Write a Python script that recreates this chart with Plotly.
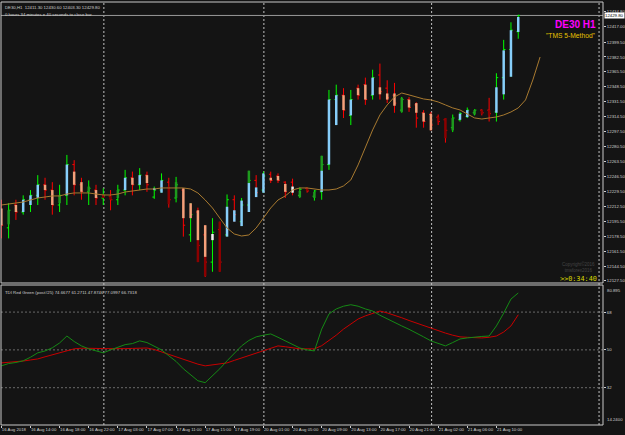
import plotly.graph_objects as go

# ---------------- data ----------------
tick_idx = [0, 4, 8, 12, 16, 20, 24, 28, 32, 36, 40, 44, 48, 52, 56, 60, 64, 68]
tick_labels = ["16 Aug 2018", "16 Aug 14:00", "16 Aug 18:00", "16 Aug 22:00",
               "17 Aug 03:00", "17 Aug 07:00", "17 Aug 11:00", "17 Aug 15:00",
               "17 Aug 19:00", "20 Aug 01:00", "20 Aug 05:00", "20 Aug 09:00",
               "20 Aug 13:00", "20 Aug 17:00", "20 Aug 21:00", "21 Aug 02:00",
               "21 Aug 06:00", "21 Aug 10:00"]
day_separators = [14.08, 36.06, 59.1, 82.1]

opens = [12208, 12188, 12214, 12206, 12220, 12225, 12237, 12231, 12214, 12225,
         12260, 12237, 12229, 12231, 12222, 12224, 12220, 12231, 12245, 12237,
         12248, 12223, 12231, 12240, 12222, 12231, 12180, 12206, 12180, 12149,
         12186, 12180, 12220, 12195, 12214, 12242, 12231, 12249, 12247, 12240,
         12240, 12225, 12233, 12224, 12229, 12260, 12334, 12339, 12316, 12347,
         12351, 12339, 12362, 12347, 12339, 12322, 12334, 12328, 12319, 12317,
         12314, 12311, 12302, 12311, 12315, 12319, 12322, 12322, 12320, 12359,
         12391, 12411.3]
highs = [12220, 12216, 12220, 12225, 12231, 12248, 12245, 12240, 12237, 12271,
         12265, 12245, 12242, 12237, 12233, 12231, 12237, 12254, 12252, 12256,
         12252, 12235, 12250, 12245, 12246, 12233, 12216, 12211, 12191, 12199,
         12195, 12226, 12225, 12222, 12253, 12248, 12252, 12252, 12250, 12241,
         12244, 12234, 12234, 12231, 12270, 12345, 12351, 12347, 12345, 12351,
         12359, 12368, 12375, 12356, 12353, 12337, 12337, 12331, 12322, 12320,
         12317, 12313, 12317, 12320, 12325, 12323, 12323, 12336, 12364, 12402,
         12422, 12430.6]
lows = [12176, 12176, 12197, 12203, 12206, 12214, 12220, 12203, 12206, 12214,
        12225, 12220, 12214, 12214, 12214, 12208, 12214, 12225, 12225, 12231,
        12229, 12221, 12228, 12211, 12217, 12178, 12172, 12149, 12132, 12138,
        12138, 12178, 12195, 12190, 12206, 12223, 12228, 12239, 12239, 12222,
        12225, 12222, 12228, 12219, 12220, 12254, 12305, 12313, 12305, 12334,
        12328, 12334, 12334, 12330, 12319, 12319, 12320, 12302, 12302, 12299,
        12305, 12285, 12297, 12309, 12313, 12316, 12316, 12309, 12309, 12334,
        12360, 12403.3]
closes = [12191, 12208, 12206, 12220, 12225, 12237, 12231, 12214, 12225, 12260,
          12237, 12229, 12233, 12222, 12225, 12220, 12231, 12245, 12237, 12248,
          12237, 12231, 12242, 12220, 12237, 12191, 12203, 12168, 12149, 12183,
          12149, 12220, 12203, 12214, 12242, 12228, 12247, 12242, 12242, 12229,
          12231, 12232, 12230, 12230, 12260, 12334, 12339, 12322, 12334, 12339,
          12334, 12359, 12343, 12336, 12330, 12334, 12325, 12313, 12309, 12305,
          12309, 12299, 12313, 12318, 12322, 12322, 12319, 12318, 12359, 12391,
          12413, 12429.8]

# Heiken-Ashi style body (top / bottom) and its state
ha_top = [12210, 12208, 12214, 12220, 12225, 12237, 12237, 12231, 12225, 12260,
          12252, 12240, 12235, 12231, 12226, 12224, 12231, 12245, 12245, 12248,
          12248, 12233, 12242, 12235, 12240, 12233, 12216, 12208, 12191, 12181,
          12195, 12212, 12208, 12219, 12239, 12234, 12250, 12245, 12247, 12238,
          12235, 12230, 12233, 12229, 12253, 12334, 12339, 12339, 12334, 12347,
          12351, 12359, 12348, 12341, 12341, 12336, 12334, 12330, 12319, 12318,
          12314, 12313, 12313, 12318, 12322, 12322, 12322, 12322, 12348, 12390,
          12413, 12428]
ha_bot = [12191, 12192, 12206, 12206, 12214, 12222, 12231, 12214, 12216, 12225,
          12237, 12229, 12229, 12222, 12222, 12220, 12222, 12231, 12237, 12237,
          12239, 12231, 12228, 12215, 12222, 12199, 12199, 12174, 12155, 12174,
          12138, 12178, 12195, 12190, 12206, 12223, 12228, 12242, 12242, 12229,
          12228, 12223, 12230, 12222, 12229, 12260, 12305, 12322, 12316, 12339,
          12334, 12339, 12340, 12334, 12327, 12320, 12325, 12319, 12309, 12299,
          12309, 12290, 12299, 12311, 12314, 12317, 12318, 12316, 12319, 12340,
          12360, 12411]
ha_state = ["bear", "weakbull", "bear", "bull", "bull", "bull", "bear", "bear", "weakbull", "bull",
            "bear", "bear", "weakbull", "bear", "weakbear", "weakbear", "weakbull", "bull", "bear", "bull",
            "bear", "bull", "bull", "weakbear", "weakbull", "bear", "bear", "bear", "bear", "doji",
            "weakbear", "bull", "bull", "bull", "bull", "bull", "bull", "bear", "bear", "bear",
            "doji", "weakbull", "weakbear", "weakbull", "bull", "bull", "bull", "bear", "bull", "bear",
            "bear", "bull", "bear", "bear", "bear", "weakbull", "bear", "bear", "bear", "bear",
            "weakbear", "weakbear", "weakbull", "bull", "bull", "weakbull", "weakbear", "weakbear", "bull", "bull",
            "bull", "bull"]
# darker extension of the HA body (None where absent)
shade_top = [None] * 72
shade_bot = [None] * 72
shade_state = [None] * 72
for i, t, b, s in [(27, 12174, 12149, "weakbear"), (28, 12155, 12133, "weakbear"),
                   (34, 12253, 12239, "weakbull"), (44, 12270, 12253, "weakbull")]:
    shade_top[i], shade_bot[i], shade_state[i] = t, b, s

# displaced moving average (runs 3 bars past the last bar)
ma_vals = [12214.0, 12215.2, 12216.3, 12217.4, 12219.7, 12222.0, 12223.1, 12224.3, 12224.3, 12226.5,
           12227.7, 12227.7, 12227.7, 12226.5, 12225.4, 12225.4, 12226.5, 12228.8, 12230.0, 12231.1,
           12232.2, 12232.2, 12233.4, 12233.4, 12233.4, 12233.4, 12232.2, 12227.7, 12219.7, 12210.6,
           12199.2, 12187.8, 12181.0, 12178.7, 12179.9, 12187.8, 12199.2, 12210.6, 12219.7, 12224.3,
           12231.1, 12233.4, 12233.4, 12232.2, 12231.1, 12231.1, 12232.2, 12235.7, 12242.5, 12259.6,
           12278.9, 12299.4, 12316.5, 12327.9, 12337.0, 12341.5, 12339.3, 12337.0, 12334.7, 12333.6,
           12331.3, 12327.9, 12324.5, 12322.2, 12317.6, 12313.1, 12311.9, 12313.1, 12314.2, 12316.5,
           12319.9, 12324.5, 12333.6, 12356.3, 12382.5]

tdi_green = [42.4, 43.5, 44.0, 44.8, 46.5, 48.6, 49.5, 51.0, 53.3, 56.6,
             54.0, 51.9, 50.5, 49.5, 48.6, 50.0, 51.4, 52.5, 53.0, 54.3,
             53.5, 51.9, 50.0, 47.2, 44.5, 41.0, 38.0, 35.3, 34.4, 37.7,
             41.0, 44.8, 48.5, 51.9, 54.5, 56.2, 57.0, 57.6, 56.0, 54.3,
             52.5, 50.9, 50.0, 49.5, 59.9, 67.1, 69.5, 70.8, 71.5, 70.8,
             69.5, 68.5, 66.5, 64.7, 63.0, 61.4, 59.8, 58.1, 56.2, 54.3,
             53.0, 51.9, 53.5, 55.2, 55.7, 56.2, 56.4, 56.6, 61.4, 67.5,
             74.2, 77.0997]
tdi_red = [43.8, 44.0, 44.3, 44.7, 45.2, 45.7, 46.7, 47.7, 48.7, 49.6,
           50.5, 50.8, 50.9, 50.7, 50.6, 50.5, 50.5, 50.6, 50.7, 50.8,
           50.9, 50.2, 49.0, 47.8, 46.7, 45.7, 44.5, 43.2, 42.4, 42.8,
           43.3, 43.8, 45.0, 46.2, 47.4, 48.6, 49.8, 51.0, 51.9, 51.5,
           51.0, 50.5, 50.5, 50.5, 52.0, 54.3, 57.0, 59.9, 62.5, 64.7,
           66.2, 67.5, 68.5, 67.6, 66.6, 65.3, 64.0, 62.8, 61.5, 60.2,
           59.0, 58.0, 57.0, 56.2, 56.0, 55.8, 55.7, 56.0, 56.6, 58.5,
           61.4, 66.7318]
tdi_levels = [68, 50, 32]
tdi_range = [14.24, 80.895]

price_tick_vals = [12127.5 + 17 * k for k in range(17)] + [12417.0, 12434.8]
price_tick_text = ["%.2f" % v for v in price_tick_vals]
last_price = 12429.80
price_range = [12125.2, 12445.1]

header1 = "DE30,H1  12411.30 12430.60 12403.30 12429.80"
header2 = "0 hours 34 minutes e 40 seconds to close bar"
tdi_label = "TDI Red Green (post#25) 74.6677 61.2711 47.8746 77.0997 66.7318"

# ---------------- style ----------------
BG = "#141414"
FRAME = "#c8c8c8"
TXT = "#d0d0d0"
body_colors = {"bull": "#87cefa", "bear": "#f4a07a", "weakbull": "#1e9a1e",
               "weakbear": "#8b0000", "doji": "#f0f0f0"}

x = list(range(len(opens)))
fig = go.Figure()

fig.add_trace(go.Ohlc(x=x, open=opens, high=highs, low=lows, close=closes,
                      increasing_line_color="#00ff00", decreasing_line_color="#ff0000",
                      line_width=1, tickwidth=0.25, xaxis="x", yaxis="y",
                      hoverinfo="skip", showlegend=False))


def seg_trace(tops, bots, states, key, width):
    xs, ys = [], []
    for i, (t, b, s) in enumerate(zip(tops, bots, states)):
        if s == key and t is not None:
            xs += [i, i, None]
            ys += [b, t, None]
    return go.Scatter(x=xs, y=ys, mode="lines", line=dict(color=body_colors[key], width=width),
                      xaxis="x", yaxis="y", hoverinfo="skip", showlegend=False)


for key in body_colors:
    fig.add_trace(seg_trace(shade_top, shade_bot, shade_state, key, 2.5))
for key in body_colors:
    fig.add_trace(seg_trace(ha_top, ha_bot, ha_state, key, 2.5))

fig.add_trace(go.Scatter(x=list(range(len(ma_vals))), y=ma_vals, mode="lines",
                         line=dict(color="#a87a30", width=1), xaxis="x", yaxis="y",
                         hoverinfo="skip", showlegend=False))

fig.add_trace(go.Scatter(x=x, y=tdi_red, mode="lines", line=dict(color="#c80000", width=1),
                         xaxis="x", yaxis="y2", hoverinfo="skip", showlegend=False))
fig.add_trace(go.Scatter(x=x, y=tdi_green, mode="lines", line=dict(color="#148a14", width=1),
                         xaxis="x", yaxis="y2", hoverinfo="skip", showlegend=False))

W, H = 625, 435
mt, mb, ml, mr = 2, 10, 1, 22
plot_h = H - mt - mb
main_bottom_px = 283
ind_top_px = 285
main_dom = [(H - mb - main_bottom_px) / plot_h, 1]
ind_dom = [0, (H - mb - ind_top_px) / plot_h]
px_per_bar = 7.28
x0 = -0.05
x1 = x0 + (W - ml - mr) / px_per_bar

shapes = []
for d in day_separators:
    shapes.append(dict(type="line", xref="x", yref="paper", x0=d, x1=d, y0=0, y1=1,
                       line=dict(color="#c0c0c0", width=1, dash="2px,2px"), layer="below"))
for lv in tdi_levels:
    shapes.append(dict(type="line", xref="paper", yref="y2", x0=0, x1=1, y0=lv, y1=lv,
                       line=dict(color="#6a6a6a", width=1, dash="2px,2px"), layer="below"))
shapes.append(dict(type="line", xref="paper", yref="y", x0=0, x1=1, y0=last_price, y1=last_price,
                   line=dict(color="#9a9a9a", width=1), layer="below"))
# pane frames
shapes.append(dict(type="rect", xref="paper", yref="paper", x0=0, x1=1, y0=main_dom[0], y1=1,
                   line=dict(color=FRAME, width=1)))
shapes.append(dict(type="rect", xref="paper", yref="paper", x0=0, x1=1, y0=0, y1=ind_dom[1],
                   line=dict(color=FRAME, width=1)))

small = dict(family="Liberation Sans, Arial", size=4.3, color=TXT)
annotations = [
    dict(text=header1, x=0.004, y=1, xref="paper", yref="paper", xanchor="left", yanchor="top",
         showarrow=False, font=small, yshift=-1),
    dict(text=header2, x=0.004, y=1, xref="paper", yref="paper", xanchor="left", yanchor="top",
         showarrow=False, font=small, yshift=-8),
    dict(text="<b>DE30 H1</b>", x=0.9925, y=1, xref="paper", yref="paper", xanchor="right",
         yanchor="middle", yshift=-22, showarrow=False,
         font=dict(family="Liberation Sans, Arial", size=10, color="#ff00ff")),
    dict(text='"TMS 5-Method"', x=0.9925, y=1, xref="paper", yref="paper", xanchor="right",
         yanchor="middle", yshift=-33, showarrow=False,
         font=dict(family="Liberation Sans, Arial", size=6.7, color="#e8c300")),
    dict(text=">>0:34:40", x=0.9935, y=main_dom[0], xref="paper", yref="paper", xanchor="right",
         yanchor="middle", yshift=4, showarrow=False,
         font=dict(family="DejaVu Sans Mono", size=6.8, color="#d8d800")),
    dict(text="Copyright©2016<br>tmsforex2016", x=0.99, y=main_dom[0], xref="paper", yref="paper",
         xanchor="right", yanchor="bottom", yshift=8, showarrow=False,
         font=dict(family="Liberation Sans, Arial", size=4.5, color="#444444")),
    dict(text=tdi_label, x=0.004, y=ind_dom[1], xref="paper", yref="paper", xanchor="left",
         yanchor="top", yshift=-3, showarrow=False, font=small),
    dict(text="%.2f" % last_price, x=1, y=last_price, xref="paper", yref="y", xanchor="left",
         yanchor="middle", xshift=1, showarrow=False, bgcolor="#ffffff", borderpad=0,
         font=dict(family="Liberation Sans, Arial", size=4.3, color="#000000")),
    dict(text="80.895", x=1, y=ind_dom[1], xref="paper", yref="paper", xanchor="left",
         yanchor="top", xshift=2, yshift=-1, showarrow=False, font=small),
    dict(text="14.2400", x=1, y=0, xref="paper", yref="paper", xanchor="left",
         yanchor="bottom", xshift=2, yshift=1, showarrow=False, font=small),
]

fig.update_layout(
    width=W, height=H, margin=dict(l=ml, r=mr, t=mt, b=mb, autoexpand=False),
    paper_bgcolor=BG, plot_bgcolor=BG, showlegend=False,
    xaxis=dict(range=[x0, x1], anchor="y2", showgrid=False, zeroline=False,
               tickvals=tick_idx, ticktext=tick_labels, ticks="outside", ticklen=2,
               tickcolor=TXT, tickfont=small, ticklabelposition="outside right",
               tickangle=0, automargin=False,
               showline=False, rangeslider=dict(visible=False)),
    yaxis=dict(domain=main_dom, range=price_range, side="right", anchor="x",
               showgrid=False, zeroline=False, tickvals=price_tick_vals, ticktext=price_tick_text,
               ticks="outside", ticklen=2, tickcolor=TXT, tickfont=small, showline=False,
               automargin=False),
    yaxis2=dict(domain=ind_dom, range=tdi_range, side="right", anchor="x",
                showgrid=False, zeroline=False, tickvals=tdi_levels,
                ticktext=[str(v) for v in tdi_levels], ticks="outside", ticklen=2,
                tickcolor=TXT, tickfont=small, showline=False, automargin=False),
    shapes=shapes, annotations=annotations,
)

fig.write_html("out.html")
